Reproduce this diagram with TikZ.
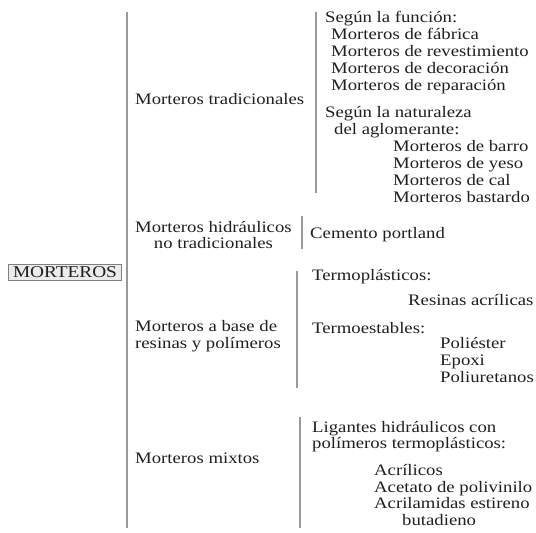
\documentclass[tikz,border=0pt]{standalone}
\usepackage{fontspec}
\setmainfont[FakeStretch=1.17]{Liberation Serif}
\begin{document}
\begin{tikzpicture}[x=1pt,y=-1pt,
  txt/.style={anchor=base west,inner sep=0pt,text=black!88,
              font=\fontsize{16}{16.8}\selectfont},
  grp/.style={anchor=west,inner sep=0pt,text=black!88,
              font=\fontsize{16}{16.4}\selectfont},
  bar/.style={draw=black!40,line width=1.1pt},
  rootbox/.style={draw=black!50,fill=black!8,line width=0.8pt,
                  inner xsep=4.5pt,inner ysep=2.5pt,text=black!88,
                  font=\fontsize{16.5}{16.5}\selectfont}]
\useasboundingbox (0,0) rectangle (536,533);

% root
\node[rootbox] (root) at (65,272.5) {MORTEROS};

% main bracket
\coordinate (m1) at (127,12);
\coordinate (m2) at (127,528);
\draw[bar] (m1) -- (m2);

% --- Morteros tradicionales ---
\node[txt] (trad) at (135,104) {Morteros tradicionales};
\coordinate (t1) at (316,12);
\coordinate (t2) at (316,193);
\draw[bar] (t1) -- (t2);
\node[txt] (fun)  at (325,22)  {Según la función:};
\node[txt] (fab)  at (331,39)  {Morteros de fábrica};
\node[txt] (rev)  at (331,56)  {Morteros de revestimiento};
\node[txt] (dec)  at (331,73)  {Morteros de decoración};
\node[txt] (rep)  at (331,90)  {Morteros de reparación};
\node[txt] (nat)  at (325,117) {Según la naturaleza};
\node[txt] (agl)  at (334,134) {del aglomerante:};
\node[txt] (bar1) at (393,151) {Morteros de barro};
\node[txt] (yes)  at (393,168) {Morteros de yeso};
\node[txt] (cal)  at (393,185) {Morteros de cal};
\node[txt] (bas)  at (393,202) {Morteros bastardo};

% --- Morteros hidráulicos no tradicionales ---
\node[grp,align=center] (hid) at (135,235) {Morteros hidráulicos\\no tradicionales};
\coordinate (h1) at (302,216);
\coordinate (h2) at (302,249);
\draw[bar] (h1) -- (h2);
\node[txt] (cem) at (310,238) {Cemento portland};

% --- Morteros a base de resinas y polímeros ---
\node[grp,align=left] (res) at (135,336) {Morteros a base de\\resinas y polímeros};
\coordinate (r1) at (297,271);
\coordinate (r2) at (297,388);
\draw[bar] (r1) -- (r2);
\node[txt] (tpl) at (312,280) {Termoplásticos:};
\node[txt] (acr) at (408,305) {Resinas acrílicas};
\node[txt] (tes) at (312,333) {Termoestables:};
\node[txt] (pol) at (440,348) {Poliéster};
\node[txt] (epo) at (440,365) {Epoxi};
\node[txt] (pur) at (440,382) {Poliuretanos};

% --- Morteros mixtos ---
\node[txt] (mix) at (135,463) {Morteros mixtos};
\coordinate (x1) at (300,417);
\coordinate (x2) at (300,528);
\draw[bar] (x1) -- (x2);
\node[txt] (lig) at (312,432) {Ligantes hidráulicos con};
\node[txt] (plt) at (312,448) {polímeros termoplásticos:};
\node[txt] (acl) at (374,475) {Acrílicos};
\node[txt] (ace) at (374,492) {Acetato de polivinilo};
\node[txt] (ams) at (374,508) {Acrilamidas estireno};
\node[txt] (but) at (402,525) {butadieno};
\end{tikzpicture}
\end{document}
